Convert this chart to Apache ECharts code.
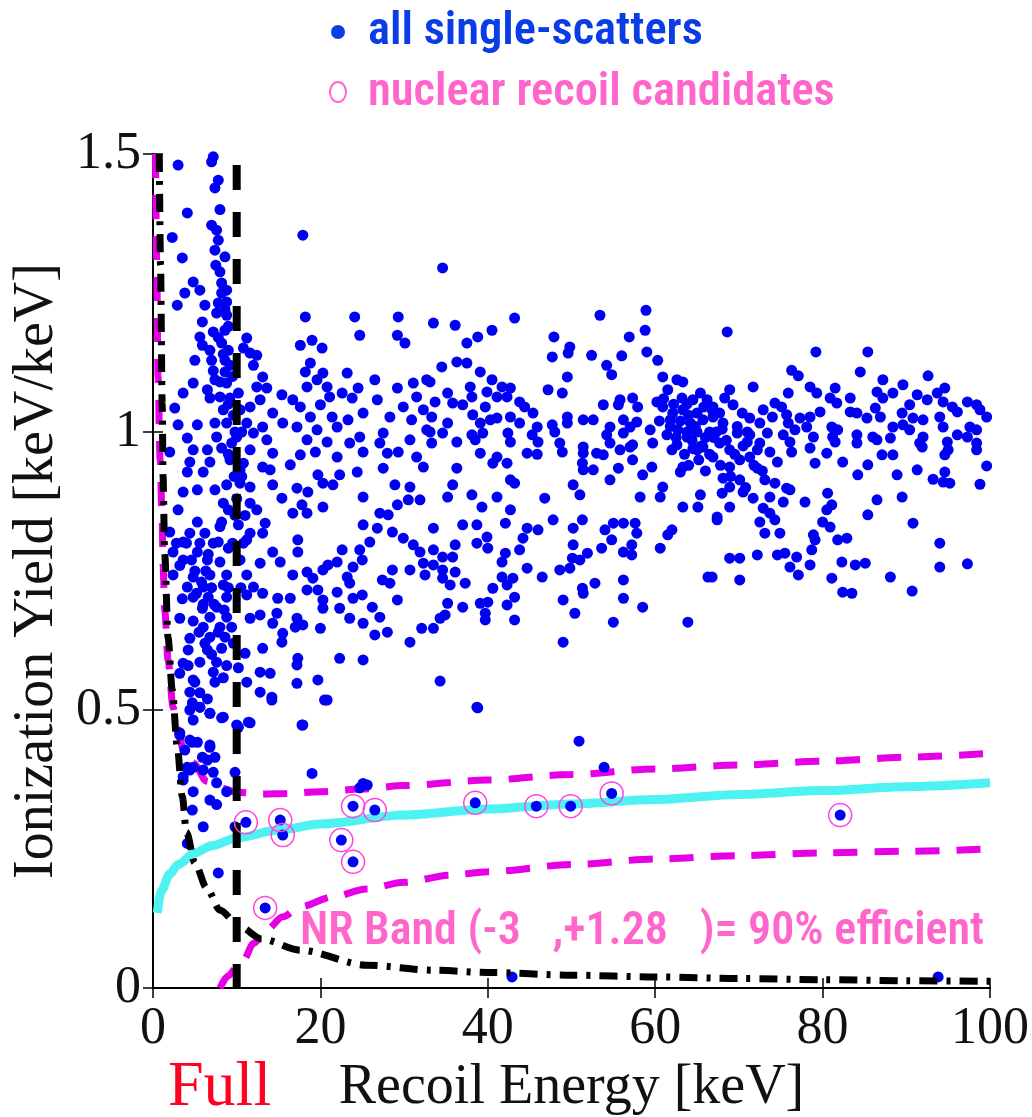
<!DOCTYPE html>
<html>
<head>
<meta charset="utf-8">
<script src="https://cdn.jsdelivr.net/npm/echarts@6/dist/echarts.min.js"></script>
<style>html,body{margin:0;padding:0;background:#fff;}#c{width:1032px;height:1117px;}</style>
</head>
<body>
<div id="c"></div>
<script>
// ---- data ----
const xTicks = [0, 20, 40, 60, 80, 100];
const yTicks = [0, 0.5, 1, 1.5];

const scattersLowE = [
[7.2,1.495],[3.0,1.48],[7.0,1.486],[7.8,1.453],[7.4,1.439],[4.1,1.394],[8.0,1.40],[7.0,1.372],[7.6,1.363],[2.3,1.35],[7.8,1.345],[17.9,1.354],[7.4,1.327],[8.6,1.315],[3.5,1.313],[8.0,1.288],[4.8,1.27],[8.2,1.268],[3.8,1.25],[5.6,1.255],[8.8,1.255],[2.9,1.228],[6.2,1.228],[7.8,1.232],[8.8,1.234],[7.6,1.214],[8.8,1.21],[5.9,1.198],[18.2,1.207],[24.1,1.207],[29.3,1.207],[7.2,1.18],[8.6,1.183],[5.6,1.171],[24.7,1.174],[29.2,1.174],[30.1,1.16],[11.2,1.169],[19.0,1.165],[17.6,1.156],[20.2,1.151],[5.9,1.156],[6.8,1.147],[8.2,1.16],[9.0,1.147],[10.8,1.151],[11.6,1.142],[12.4,1.138],[5.0,1.129],[7.0,1.129],[8.6,1.129],[12.0,1.12],[18.8,1.124],[7.2,1.11],[8.6,1.108],[18.2,1.108],[20.3,1.106],[23.2,1.106],[13.1,1.099],[19.6,1.094],[26.5,1.094],[32.7,1.094],[31.1,1.088],[4.8,1.088],[7.4,1.094],[8.8,1.088],[3.6,1.07],[6.5,1.076],[12.4,1.081],[13.6,1.079],[18.4,1.081],[20.8,1.081],[24.5,1.079],[29.2,1.079],[15.4,1.067],[21.1,1.063],[22.6,1.07],[23.8,1.061],[26.8,1.058],[31.5,1.063],[6.8,1.061],[8.0,1.063],[9.2,1.061],[12.8,1.058],[16.7,1.058],[2.6,1.043],[17.6,1.045],[20.0,1.049],[25.1,1.034],[29.9,1.045],[32.3,1.04],[8.4,1.04],[10.4,1.04],[11.6,1.045],[14.3,1.034],[15.5,1.016],[18.8,1.027],[21.4,1.027],[23.3,1.022],[28.3,1.027],[30.9,1.022],[3.0,1.013],[5.3,1.013],[7.4,1.016],[8.8,1.016],[11.2,1.016],[13.1,1.009],[17.2,1.009],[19.6,1.004],[22.0,1.009],[24.7,0.991],[27.5,0.998],[32.7,1.004],[4.1,0.989],[7.6,0.991],[10.0,0.991],[12.0,0.998],[13.6,0.986],[18.4,0.986],[20.8,0.982],[23.5,0.98],[27.1,0.98],[30.7,0.986],[2.0,0.964],[4.8,0.968],[6.5,0.968],[8.2,0.971],[11.6,0.968],[14.3,0.962],[17.6,0.959],[19.4,0.964],[22.0,0.955],[25.1,0.964],[28.0,0.962],[29.3,0.964],[31.5,0.955],[4.4,0.946],[6.8,0.946],[9.2,0.95],[10.8,0.944],[13.1,0.937],[16.4,0.941],[19.7,0.923],[22.3,0.923],[24.4,0.928],[27.5,0.935],[32.3,0.937],[4.1,0.928],[6.0,0.928],[10.4,0.932],[14.0,0.932],
[7.5,1.30],[8.2,1.25],[8.6,1.22],[9.0,1.19],[7.8,1.17],[8.4,1.14],[9.2,1.12],[9.5,1.10],[8.0,1.09],[9.0,1.05],[9.6,1.03],[9.8,1.00],[9.4,0.98],[10.2,1.07],[10.6,1.00],[9.0,0.96]
];

const scattersLowEBottom = [
[3.6,0.892],[5.3,0.896],[7.4,0.896],[8.8,0.905],[10.4,0.908],[11.6,0.901],[14.3,0.905],[17.2,0.899],[18.5,0.892],[20.3,0.908],[21.5,0.905],[25.1,0.883],[28.9,0.905],[30.7,0.901],[31.9,0.878],[15.4,0.881],[17.8,0.869],[20.3,0.865],[29.2,0.869],[30.5,0.878],[3.0,0.86],[8.4,0.872],[11.6,0.872],[12.4,0.86],[16.7,0.854],[18.4,0.854],[27.1,0.854],[28.1,0.851],[5.3,0.838],[8.2,0.838],[10.2,0.833],[13.4,0.836],[25.1,0.833],[26.8,0.827],[2.0,0.82],[4.4,0.818],[6.2,0.818],[11.6,0.818],[13.1,0.818],[28.6,0.82],[29.9,0.809],[17.3,0.806],[3.6,0.802],[7.8,0.802],[11.2,0.806],[25.9,0.802],[31.1,0.797],[31.9,0.784],[9.0,0.791],[2.4,0.784],[5.3,0.784],[14.3,0.784],[17.3,0.784],[22.6,0.788],[24.7,0.788],[3.6,0.77],[6.5,0.77],[8.0,0.766],[10.4,0.77],[12.8,0.764],[15.2,0.766],[20.9,0.761],[22.0,0.766],[25.0,0.77],[23.9,0.757],[32.3,0.764],[28.6,0.752],[30.7,0.752],[32.5,0.743],[2.4,0.743],[4.8,0.739],[6.8,0.743],[8.8,0.743],[11.2,0.743],[16.7,0.743],[18.4,0.748],[20.3,0.752],[23.2,0.739],[19.1,0.737],[4.1,0.721],[6.0,0.721],[8.4,0.725],[12.0,0.721],[13.1,0.71],[27.4,0.734],[28.3,0.728],[23.5,0.728],[18.4,0.716],[19.7,0.716],[22.0,0.712],[4.8,0.703],[6.6,0.703],[8.8,0.703],[11.2,0.707],[14.9,0.701],[16.4,0.701],[20.3,0.698],[23.9,0.701],[25.0,0.707],[29.2,0.698],[5.9,0.683],[7.6,0.685],[20.3,0.683],[22.3,0.683],[26.2,0.685],[3.2,0.665],[6.8,0.667],[8.8,0.667],[11.6,0.665],[12.8,0.671],[14.8,0.674],[17.2,0.665],[23.5,0.665],[27.1,0.667],[32.1,0.647],[6.0,0.649],[8.0,0.649],[9.4,0.649],[14.3,0.656],[17.0,0.649],[17.9,0.653],[20.0,0.647],[25.1,0.656],[28.0,0.64],[26.5,0.635],[15.5,0.638],[4.4,0.629],[6.8,0.631],[8.6,0.631],[15.4,0.622],[30.7,0.622],[4.2,0.608],[6.5,0.608],[8.2,0.611],[11.0,0.602],[13.1,0.611],[17.3,0.593],[22.3,0.593],[25.1,0.59],[3.6,0.584],[5.6,0.586],[7.6,0.586],[10.2,0.576],[12.8,0.568],[14.0,0.566],[17.2,0.581],[3.2,0.566],[7.2,0.568],[8.4,0.558],[4.8,0.554],[11.2,0.55],[17.2,0.548],[19.7,0.554],[4.4,0.532],[5.6,0.531],[12.8,0.532],[14.2,0.523],[20.5,0.518],[4.7,0.513],[5.6,0.505],[6.8,0.494],[8.4,0.487],[4.8,0.482],[10.2,0.469],[11.4,0.478],[17.8,0.473],[3.2,0.455],[4.7,0.442],[6.8,0.437],[3.8,0.428],[5.9,0.415],[7.4,0.415],[4.1,0.397],[6.0,0.392],[9.8,0.388],[19.0,0.386],[4.8,0.353],[8.8,0.353],[3.6,0.374],[25.1,0.368],[24.7,0.36],
[4.0,0.80],[4.6,0.77],[5.0,0.75],[5.8,0.73],[6.3,0.75],[7.0,0.72],[7.3,0.69],[6.0,0.69],[5.2,0.71],[4.8,0.66],[5.5,0.64],[6.2,0.62],[7.0,0.60],[7.8,0.64],[8.5,0.68],[9.0,0.72],[9.5,0.80],[9.8,0.85],[10.0,0.88],[9.0,0.86],[8.0,0.83],[7.2,0.80],[6.6,0.78],[5.6,0.80],[3.2,0.76],[2.8,0.80],[3.5,0.70],[4.2,0.58],[5.0,0.55],[6.5,0.52],[7.4,0.55],[8.8,0.58],[9.6,0.62],[10.5,0.72],[10.8,0.80],[11.0,0.85],[10.6,0.92],[9.7,0.92],
[4.4,0.5],[5.6,0.505],[3.2,0.459],[4.4,0.446],[5.3,0.442],[6.8,0.433],[6.5,0.41],[4.8,0.397],[7.2,0.388],[7.6,0.369],[4.4,0.392],[4.7,0.32],[6.0,0.29],[4.1,0.26],[7.8,0.207],[9.8,0.29],[17.9,0.473],[25.6,0.365],[6.8,0.494],[8.2,0.486],[10.0,0.473],[11.6,0.477],[14.2,0.518],[20.8,0.518],[38.7,0.505],[6.8,0.338],[7.6,0.33],[3.6,0.38]
];

const scattersMidE = [
[34.6,1.295],[33.5,1.196],[36.1,1.192],[43.2,1.205],[53.4,1.21],[58.9,1.219],[38.8,1.171],[40.5,1.183],[37.5,1.16],[47.9,1.171],[56.9,1.171],[58.8,1.183],[49.8,1.153],[49.6,1.142],[47.7,1.135],[52.4,1.138],[56.0,1.137],[59.0,1.144],[60.3,1.129],[34.5,1.117],[36.3,1.126],[37.5,1.124],[54.2,1.12],[54.8,1.103],[39.1,1.108],[49.5,1.099],[60.9,1.099],[40.5,1.094],[62.6,1.094],[63.3,1.09],[33.1,1.09],[37.9,1.081],[41.7,1.081],[42.7,1.079],[47.2,1.076],[48.9,1.07],[61.5,1.076],[65.4,1.07],[35.2,1.07],[39.9,1.072],[38.1,1.063],[41.1,1.063],[42.3,1.063],[55.8,1.058],[57.3,1.061],[60.2,1.054],[33.7,1.054],[35.8,1.052],[43.8,1.054],[63.2,1.061],[64.5,1.058],[66.2,1.058],[37.0,1.049],[39.7,1.045],[44.4,1.045],[53.8,1.049],[55.6,1.049],[57.9,1.045],[60.9,1.045],[45.4,1.034],[49.5,1.027],[62.1,1.034],[63.3,1.04],[65.0,1.034],[33.3,1.027],[38.2,1.031],[41.1,1.025],[42.7,1.027],[51.4,1.022],[52.6,1.022],[56.2,1.022],[57.8,1.018],[61.8,1.022],[64.2,1.016],[65.7,1.022],[35.2,1.016],[39.1,1.016],[40.3,1.022],[43.8,1.016],[45.9,1.009],[47.7,1.013],[49.5,1.016],[54.6,1.009],[57.0,1.009],[59.4,1.004],[62.7,1.004],[65.0,1.0],[33.1,1.0],[34.6,0.998],[38.1,0.995],[39.4,0.998],[42.4,0.998],[45.3,0.995],[48.0,1.0],[54.2,0.995],[56.2,0.998],[61.4,0.995],[63.8,0.991],[33.3,0.98],[36.3,0.982],[38.5,0.986],[42.7,0.982],[46.0,0.982],[48.6,0.98],[51.4,0.973],[54.6,0.98],[57.3,0.977],[59.7,0.98],[62.6,0.977],[65.7,0.973],[39.1,0.962],[41.1,0.955],[44.7,0.962],[45.9,0.96],[48.9,0.964],[51.4,0.962],[53.0,0.962],[53.8,0.959],[55.8,0.968],[57.0,0.973],[62.0,0.968],[65.0,0.968],[42.3,0.944],[51.3,0.944],[52.6,0.932],[51.4,0.932],[55.6,0.935],[57.3,0.95],[59.6,0.937],[36.3,0.935],[40.6,0.944],[58.5,0.923],[63.0,0.928],[63.3,0.937],[42.7,0.914],[43.2,0.908],[54.6,0.914],[35.8,0.905],[50.2,0.905],[60.9,0.901],[35.2,0.883],[38.1,0.887],[41.1,0.883],[46.8,0.881],[51.0,0.887],[58.2,0.883],[60.6,0.883],[65.4,0.887],[39.3,0.865],[42.7,0.86],[63.3,0.865],[65.1,0.865],
[64.0,1.03],[64.8,1.01],[66.0,0.99],[66.8,1.04],[67.3,1.0],[66.5,0.96],[65.5,0.975],[64.4,0.985],[63.8,1.05],[65.8,1.045],[61.0,1.06],[62.2,1.05],[63.0,1.02],[63.8,1.0],[64.5,0.97],[62.5,0.99],[61.8,1.01],[60.5,1.02],[65.2,0.95],[64.0,0.94],[66.0,0.93],[63.5,0.96]
];

const scattersMidEBottom = [
[37.0,0.833],[38.7,0.833],[42.1,0.836],[44.7,0.827],[46.0,0.824],[47.8,0.842],[50.2,0.827],[51.3,0.842],[54.0,0.824],[55.0,0.836],[56.2,0.836],[57.6,0.836],[57.8,0.818],[62.0,0.824],[61.5,0.815],[33.5,0.827],[39.9,0.811],[38.7,0.8],[44.2,0.809],[54.8,0.806],[36.1,0.797],[40.0,0.791],[43.8,0.788],[50.2,0.797],[53.6,0.791],[57.2,0.797],[60.6,0.791],[33.5,0.788],[34.6,0.775],[35.8,0.775],[42.1,0.782],[51.9,0.782],[56.2,0.784],[57.2,0.779],[41.7,0.766],[50.1,0.773],[51.0,0.77],[33.5,0.761],[44.7,0.755],[48.6,0.752],[49.8,0.755],[34.6,0.752],[36.1,0.748],[46.5,0.739],[34.6,0.737],[41.7,0.739],[43.0,0.737],[56.2,0.734],[35.5,0.725],[37.3,0.728],[42.3,0.725],[52.8,0.728],[40.6,0.719],[51.3,0.719],[51.4,0.71],[66.3,0.739],[43.2,0.703],[56.2,0.701],[49.0,0.698],[35.2,0.692],[37.0,0.685],[39.1,0.692],[40.0,0.694],[42.3,0.689],[58.5,0.685],[39.7,0.674],[34.9,0.671],[50.4,0.674],[39.7,0.662],[34.3,0.665],[43.2,0.662],[55.0,0.658],[63.9,0.658],[33.5,0.647],[49.0,0.622],[34.3,0.552],[38.8,0.504],[50.9,0.444],[53.9,0.397]
];

const scattersHighE = [
[68.6,1.18],[79.2,1.144],[85.4,1.144],[76.3,1.111],[77.1,1.101],[84.5,1.108],[92.6,1.101],[87.2,1.094],[71.7,1.081],[78.5,1.081],[81.5,1.079],[89.6,1.085],[94.6,1.079],[68.9,1.076],[75.9,1.07],[79.3,1.07],[86.5,1.072],[88.4,1.07],[91.3,1.067],[93.7,1.07],[68.3,1.061],[80.9,1.061],[83.3,1.061],[92.5,1.058],[94.4,1.054],[97.3,1.054],[87.2,1.061],[66.9,1.045],[69.3,1.049],[74.3,1.052],[75.1,1.045],[81.7,1.052],[86.3,1.043],[90.4,1.049],[95.5,1.045],[98.4,1.049],[98.8,1.04],[67.7,1.034],[70.4,1.034],[72.9,1.04],[79.7,1.036],[83.3,1.036],[84.1,1.034],[89.5,1.034],[96.1,1.036],[99.6,1.027],[66.9,1.027],[71.3,1.025],[74.0,1.027],[75.7,1.031],[77.3,1.025],[78.5,1.027],[85.3,1.025],[86.9,1.027],[90.8,1.025],[92.0,1.022],[94.0,1.027],[68.1,1.016],[72.5,1.016],[75.9,1.016],[76.7,1.004],[78.1,1.009],[81.1,1.009],[81.8,1.004],[88.4,1.009],[89.6,1.013],[90.4,1.004],[94.4,1.009],[97.6,1.009],[98.4,1.004],[66.5,1.0],[69.8,0.998],[71.3,0.995],[73.4,0.998],[75.3,0.995],[78.9,0.991],[81.2,0.991],[84.1,0.995],[86.0,0.991],[88.1,0.989],[92.0,0.991],[96.1,0.995],[97.3,0.991],[67.7,0.98],[71.0,0.982],[72.5,0.98],[76.1,0.982],[81.5,0.982],[84.1,0.98],[86.5,0.986],[91.6,0.98],[94.9,0.982],[98.4,0.98],[68.9,0.968],[72.2,0.968],[73.7,0.964],[76.3,0.964],[78.5,0.971],[80.5,0.962],[82.4,0.946],[87.1,0.959],[88.4,0.959],[91.9,0.973],[95.0,0.968],[98.4,0.968],[66.9,0.955],[70.1,0.95],[71.3,0.955],[74.6,0.946],[79.1,0.944],[85.4,0.941],[94.6,0.959],[99.6,0.939],[68.9,0.937],[72.2,0.935],[68.1,0.917],[70.1,0.914],[73.1,0.914],[74.3,0.908],[84.2,0.923],[88.9,0.923],[91.3,0.932],[93.2,0.915],[94.6,0.928],[94.4,0.91],[95.2,0.908],[98.8,0.906],[68.9,0.901],[75.7,0.899],[68.0,0.89],[70.5,0.892],[76.1,0.896],[80.6,0.89],[71.7,0.881],[73.7,0.883],[75.3,0.874],[77.9,0.874],[86.5,0.878],[89.5,0.883],[81.1,0.869],[68.9,0.865],[72.9,0.863],[73.7,0.854],[80.5,0.86],[85.4,0.851],[67.4,0.847],
[67.0,0.99],[68.5,0.985],[69.5,0.96],[70.5,0.975],[67.8,0.94],[69.0,0.92],[70.8,0.9],[71.8,0.94],[72.8,0.93],[69.8,1.01],[68.0,1.005],[71.0,1.0]
];

const scattersHighEBottom = [
[67.4,0.842],[72.5,0.838],[74.3,0.842],[80.0,0.838],[80.9,0.829],[90.8,0.836],[73.1,0.818],[74.9,0.818],[78.9,0.815],[79.1,0.806],[81.8,0.806],[82.9,0.809],[94.0,0.8],[78.7,0.788],[68.9,0.773],[70.1,0.773],[72.2,0.779],[74.6,0.779],[75.5,0.782],[76.9,0.775],[82.3,0.766],[83.9,0.761],[85.1,0.764],[76.1,0.757],[78.5,0.761],[94.0,0.757],[97.3,0.763],[66.8,0.739],[70.1,0.734],[77.1,0.743],[81.1,0.737],[88.1,0.739],[82.4,0.712],[83.5,0.71],[90.7,0.714],
[42.9,0.02],[93.8,0.02]
];

// nuclear recoil candidates (also single-scatters)
const candidates = [
[11.1,0.298],[15.2,0.302],[15.5,0.275],[22.5,0.266],[23.9,0.327],[23.9,0.227],[26.5,0.32],[13.4,0.144],[38.5,0.333],[45.8,0.327],[49.9,0.327],[54.8,0.35],[82.1,0.311]
];

// NR band centroid (cyan)
const centroidX = [0.5, 1, 2, 3, 5, 7, 10, 15, 20, 30, 40, 50, 60, 70, 80, 90, 100];
const centroidY = [0.135, 0.175, 0.205, 0.222, 0.243, 0.256, 0.27, 0.284, 0.295, 0.311, 0.322, 0.331, 0.339, 0.348, 0.355, 0.362, 0.369];

// upper band edge (+1.28 sigma, magenta dashed)
const upperX = [0.3, 0.45, 0.6, 0.85, 1.1, 1.2, 1.4, 1.8, 2.4, 3.0, 3.6, 4.8, 6.4, 8.0, 10, 13, 16, 20, 25, 30, 40, 50, 60, 70, 80, 90, 100];
const upperY = [1.5, 1.3, 1.1, 0.95, 0.84, 0.76, 0.68, 0.59, 0.505, 0.46, 0.43, 0.405, 0.372, 0.36, 0.352, 0.349, 0.35, 0.353, 0.358, 0.364, 0.374, 0.384, 0.394, 0.401, 0.408, 0.415, 0.422];

// lower band edge (-3 sigma, magenta dashed)
const lowerX = [8, 9, 10, 10.8, 12, 13.6, 15.5, 17.6, 21.5, 25.5, 30, 35.5, 40, 50, 60, 70, 80, 90, 100];
const lowerY = [0, 0.022, 0.038, 0.05, 0.08, 0.105, 0.128, 0.146, 0.164, 0.178, 0.19, 0.203, 0.209, 0.222, 0.232, 0.238, 0.243, 0.246, 0.25];

// ionization threshold (black dash-dot)
const threshX = [0.75, 0.9, 1.1, 1.2, 1.4, 1.8, 2.3, 2.9, 3.5, 4.0, 5.0, 6.4, 8.0, 10.4, 13, 17.6, 25.5, 33.5, 40, 50, 60, 70, 80, 90, 100];
const threshY = [1.5, 1.3, 1.05, 0.92, 0.78, 0.63, 0.536, 0.434, 0.344, 0.28, 0.225, 0.18, 0.14, 0.11, 0.088, 0.068, 0.041, 0.032, 0.028, 0.023, 0.02, 0.017, 0.015, 0.013, 0.012];

// recoil-energy analysis threshold (black dashed vertical)
const eThreshX = [10, 10];
const eThreshY = [1.48, 0];

// ---- chart ----
const zip = (xs, ys) => xs.map((x, i) => [x, ys[i]]);
const allScatters = [].concat(scattersLowE, scattersLowEBottom, scattersMidE, scattersMidEBottom, scattersHighE, scattersHighEBottom, candidates);

const serif = "'Liberation Serif', 'DejaVu Serif', serif";
const narrow = "'Liberation Sans Narrow', 'Roboto Condensed', 'Liberation Sans', sans-serif";
const MAGENTA = '#e600e6';
const PINK = '#ff66cc';
const BLUE = '#0000f2';

const chart = echarts.init(document.getElementById('c'), null, {renderer: 'canvas'});
const axisLine = {show: true, lineStyle: {color: '#000', width: 2}};
const tick = {show: true, inside: true, length: 10, lineStyle: {color: '#000', width: 1.5}};
chart.setOption({
  animation: false,
  backgroundColor: '#fff',
  grid: {left: 153, right: 42, top: 154, bottom: 129, containLabel: false, outerBoundsMode: 'none'},
  xAxis: [
    {type: 'value', min: 0, max: 100, interval: 20, position: 'bottom',
     name: 'Recoil Energy [keV]', nameLocation: 'middle', nameGap: 62,
     nameTextStyle: {fontFamily: serif, fontSize: 56, color: '#111'},
     axisLine, axisTick: tick,
     axisLabel: {fontFamily: serif, fontSize: 52, color: '#111', margin: 15},
     splitLine: {show: false}},
    {type: 'value', min: 0, max: 100, interval: 20, position: 'top',
     axisLine, axisTick: tick, axisLabel: {show: false}, splitLine: {show: false}}
  ],
  yAxis: [
    {type: 'value', min: 0, max: 1.5, interval: 0.5, position: 'left',
     name: 'Ionization Yield [keV/keV]', nameLocation: 'middle', nameGap: 84, nameRotate: 90,
     nameTextStyle: {fontFamily: serif, fontSize: 56, color: '#111'},
     axisLine, axisTick: tick,
     axisLabel: {fontFamily: serif, fontSize: 52, color: '#111', margin: 12,
       formatter: v => String(v)},
     splitLine: {show: false}},
    {type: 'value', min: 0, max: 1.5, interval: 0.5, position: 'right',
     axisLine, axisTick: tick, axisLabel: {show: false}, splitLine: {show: false}}
  ],
  series: [
    {name: 'upper band', type: 'line', data: zip(upperX, upperY), showSymbol: false, symbol: 'none',
     smooth: 0.3, smoothMonotone: 'x', z: 2,
     lineStyle: {color: MAGENTA, width: 7, type: [24, 17], cap: 'butt'}},
    {name: 'lower band', type: 'line', data: zip(lowerX, lowerY), showSymbol: false, symbol: 'none',
     smooth: 0.3, smoothMonotone: 'x', z: 2,
     lineStyle: {color: MAGENTA, width: 7, type: [24, 17], cap: 'butt'}},
    {name: 'NR centroid', type: 'line', data: zip(centroidX, centroidY), showSymbol: false, symbol: 'none',
     smooth: 0.3, smoothMonotone: 'x', z: 2,
     lineStyle: {color: '#4ff2f2', width: 9}},
    {name: 'all single-scatters', type: 'scatter', data: allScatters, symbol: 'circle', symbolSize: 11, z: 3,
     itemStyle: {color: BLUE, opacity: 1}},
    {name: 'threshold', type: 'line', data: zip(threshX, threshY), showSymbol: false, symbol: 'none',
     smooth: 0.3, smoothMonotone: 'x', z: 4,
     lineStyle: {color: '#000', width: 7, type: [18, 9, 4, 9], cap: 'butt'}},
    {name: 'energy threshold', type: 'line', data: zip(eThreshX, eThreshY), showSymbol: false, symbol: 'none', z: 4,
     lineStyle: {color: '#000', width: 8, type: [25, 22], cap: 'butt'}},
    {name: 'nuclear recoil candidates', type: 'scatter', data: candidates, symbol: 'circle', symbolSize: 23, z: 5,
     itemStyle: {color: 'rgba(0,0,0,0)', borderColor: '#ff44dd', borderWidth: 1.5, opacity: 1}}
  ],
  graphic: [
    {type: 'circle', shape: {cx: 338, cy: 32, r: 7}, style: {fill: '#0a3de6'}},
    {type: 'text', x: 368, y: 32, style: {text: 'all single-scatters', fill: '#0a3de6',
      font: '600 46.5px ' + narrow, verticalAlign: 'middle'}},
    {type: 'ellipse', shape: {cx: 338, cy: 92, rx: 8, ry: 10}, style: {fill: 'none', stroke: PINK, lineWidth: 2}},
    {type: 'text', x: 368, y: 93, style: {text: 'nuclear recoil candidates', fill: PINK,
      font: '600 46.5px ' + narrow, verticalAlign: 'middle'}},
    {type: 'text', x: 300, y: 932, z: 10, style: {text: 'NR Band (-3   ,+1.28   )= 90% efficient', fill: PINK,
      font: '600 46px ' + narrow, verticalAlign: 'middle'}},
    {type: 'text', x: 168, y: 1088, style: {text: 'Full', fill: '#ff0022',
      font: '64px ' + serif, verticalAlign: 'middle'}}
  ]
});
</script>
</body>
</html>
